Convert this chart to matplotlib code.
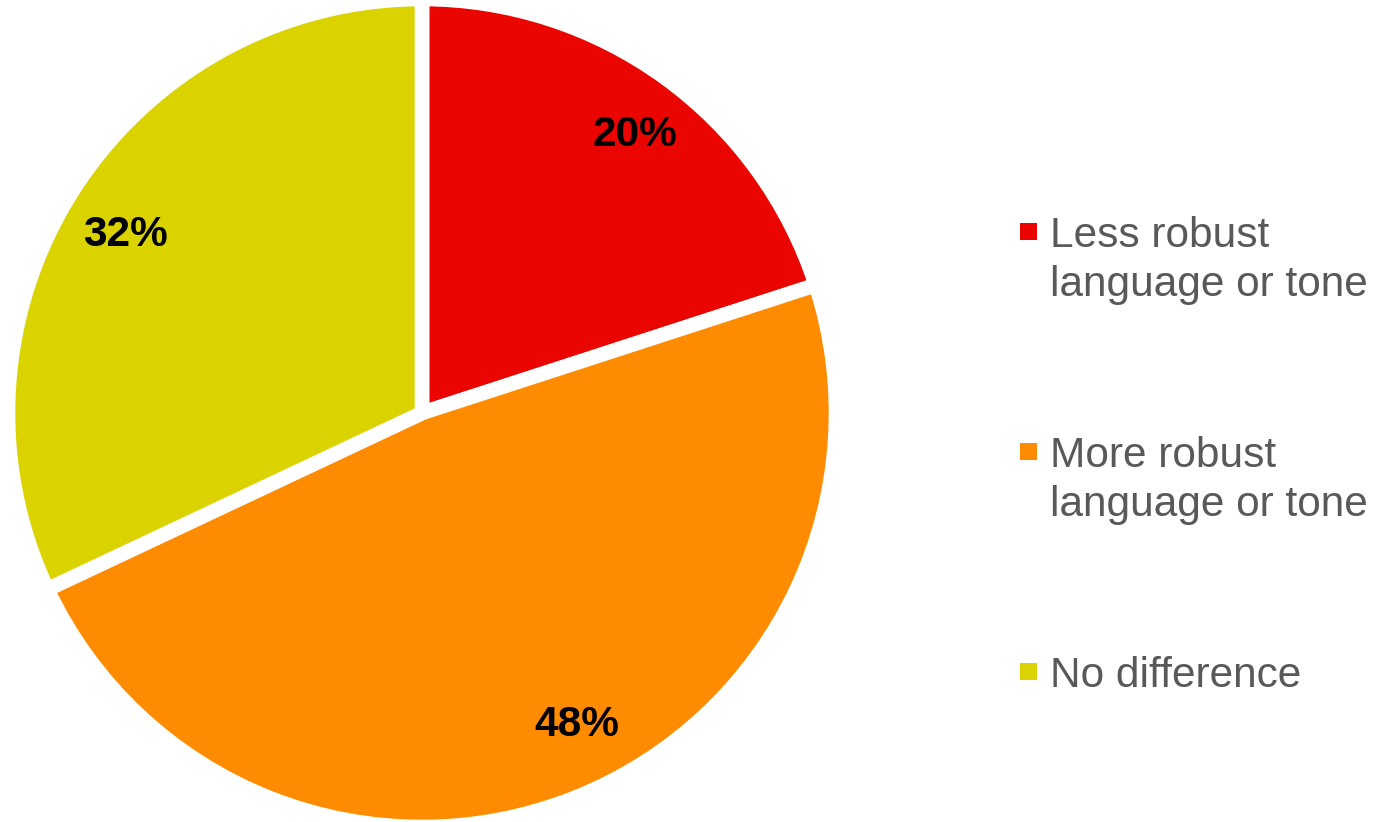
import matplotlib.pyplot as plt
from matplotlib.patches import Rectangle

plt.rcParams['font.family'] = ['Liberation Sans', 'DejaVu Sans']

# survey answers
categories = ['Less robust\nlanguage or tone', 'More robust\nlanguage or tone', 'No difference']
shares = [20, 48, 32]
colors = ['#EB0500', '#FF8B00', '#DAD300']

# label anchors (pixels, y from bottom) for the percentage texts
pct_pos = [(635, 687), (577, 97), (125, 587)]


def main():
    fig = plt.figure(figsize=(13.85, 8.22), dpi=100)
    ax = fig.add_axes([0, 0, 1, 1])

    wedges, texts, autotexts = ax.pie(
        shares, colors=colors, startangle=90, counterclock=False,
        center=(422, 409), radius=414,
        autopct='%d%%', pctdistance=0.84,
        wedgeprops=dict(edgecolor='white', linewidth=10.5),
        textprops=dict(fontsize=30.5, fontweight='bold', color='black'))

    for t, pos in zip(autotexts, pct_pos):
        t.set_position(pos)

    ax.set_xlim(0, 1385)
    ax.set_ylim(0, 822)
    ax.set_aspect('equal')
    ax.axis('off')

    # legend drawn by hand: square marker + wrapped label, one text per line
    legend_baselines = [575, 355, 135]
    line_step = 49
    for label, col, yb in zip(categories, colors, legend_baselines):
        ax.add_patch(Rectangle((1020, yb + 7), 17, 17, facecolor=col, edgecolor='none'))
        for i, line in enumerate(label.split('\n')):
            ax.text(1050, yb - i * line_step, line, fontsize=30.5, color='#595959',
                    va='baseline', ha='left')

    fig.savefig('out.png', dpi=100)


if __name__ == '__main__':
    main()
